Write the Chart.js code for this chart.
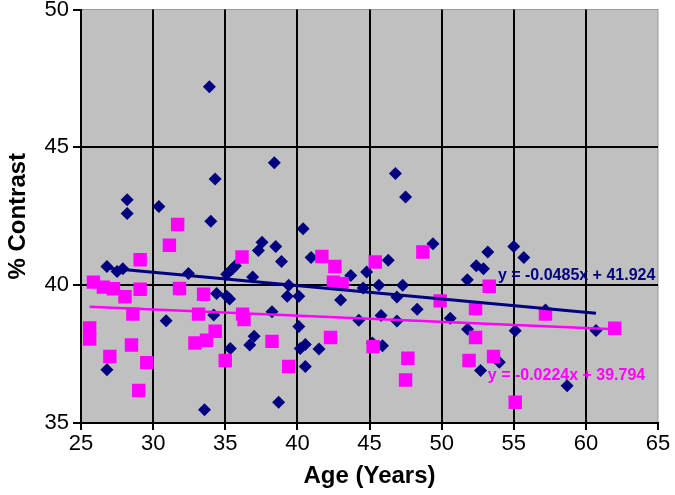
<!DOCTYPE html>
<html>
<head>
<meta charset="utf-8">
<script src="https://cdn.jsdelivr.net/npm/chart.js@4"></script>
<style>
  html, body { margin: 0; padding: 0; background: #fff; }
  #wrap { width: 675px; height: 495px; }
</style>
</head>
<body>
<div id="wrap"><canvas id="c" width="675" height="495"></canvas></div>
<script>
// navy diamonds: age, % contrast
var navyAge = [28.2, 28.2, 30.4, 33.9, 34.3, 38.4, 46.8, 47.5, 34.0, 26.8, 27.5, 27.9, 32.45,
  35.1, 35.5, 35.7, 37.55, 37.3, 38.5, 38.9, 36.9, 40.4, 40.95, 39.4, 39.3, 40.1, 34.4, 35.1, 35.3,
  43.0, 43.7, 44.56, 44.8, 30.9, 34.2, 38.24, 40.1, 37.0, 36.7, 35.35, 40.2, 40.55, 41.5, 40.55,
  26.8, 38.7, 33.56, 44.26, 49.4, 46.3, 45.65, 47.3, 46.9, 48.3, 45.8, 46.9, 50.6, 51.8, 45.2, 45.9,
  52.7, 54.0, 51.78, 52.4, 52.9, 53.2, 55.0, 55.7, 57.2, 55.1, 58.7, 60.7];
var navyContrast = [43.1, 42.6, 42.85, 47.2, 43.85, 44.44, 44.05, 43.2, 42.32, 40.68, 40.5, 40.6, 40.42,
  40.4, 40.6, 40.7, 41.56, 41.26, 41.4, 40.86, 40.3, 42.05, 41.0, 40.0, 39.6, 39.6, 39.7, 39.6, 39.5,
  39.46, 40.35, 39.9, 40.48, 38.71, 38.92, 39.04, 38.5, 38.15, 37.83, 37.7, 37.7, 37.85, 37.68, 37.05,
  36.93, 35.75, 35.48, 38.73, 41.5, 40.9, 40.0, 40.0, 39.57, 39.13, 38.9, 38.7, 38.8, 38.4, 37.9, 37.8,
  36.9, 37.2, 40.2, 40.7, 40.6, 41.2, 41.4, 41.0, 39.1, 38.35, 36.35, 38.36];

// magenta squares: age, % contrast
var pinkAge = [31.7, 31.13, 29.1, 36.16, 41.7, 42.6, 42.5, 43.1, 25.86, 26.55, 27.25, 28.05, 29.1,
  31.83, 33.5, 28.6, 25.6, 25.6, 33.15, 36.2, 36.3, 28.5, 27.0, 29.56, 29.0, 32.9, 33.7, 34.3, 35.0,
  38.24, 39.4, 42.3, 45.25, 45.4, 48.7, 53.3, 49.9, 52.35, 52.35, 51.9, 53.6, 47.66, 47.5, 57.2,
  55.1, 62.0];
var pinkContrast = [42.2, 41.45, 40.92, 41.02, 41.04, 40.68, 40.11, 40.05, 40.11, 39.93, 39.87, 39.58, 39.85,
  39.88, 39.67, 38.95, 38.45, 38.05, 38.95, 38.95, 38.75, 37.83, 37.41, 37.19, 36.18, 37.9, 38.0, 38.33, 37.27,
  37.96, 37.05, 38.1, 37.77, 40.84, 41.2, 39.96, 39.43, 39.15, 38.1, 37.27, 37.41, 37.35, 36.56, 38.95,
  35.75, 38.44];

// linear trendlines as printed on the chart
var navyFit = [-0.0485, 41.924];
var pinkFit = [-0.0224, 39.794];
var navyLabel = 'y = -0.0485x + 41.924';
var pinkLabel = 'y = -0.0224x + 39.794';

var xTicks = [25, 30, 35, 40, 45, 50, 55, 60, 65];
var yTicks = [35, 40, 45, 50];

var NAVY = '#000080';
var PINK = '#FF00FF';
var tickFont = { family: "'Liberation Sans Narrow', 'Liberation Sans', sans-serif", size: 22 };
var titleFont = { family: "'Liberation Sans Narrow', 'Liberation Sans', sans-serif", size: 24, weight: 'bold' };

function pts(xs, ys) {
  return xs.map(function(x, i) { return { x: x, y: ys[i] }; });
}
function fitLine(xs, fit) {
  var lo = Math.min.apply(null, xs), hi = Math.max.apply(null, xs);
  return [{ x: lo, y: fit[0] * lo + fit[1] }, { x: hi, y: fit[0] * hi + fit[1] }];
}

var plotBg = {
  id: 'plotBg',
  beforeDraw: function(chart) {
    var a = chart.chartArea, ctx = chart.ctx;
    ctx.save();
    ctx.fillStyle = '#C0C0C0';
    ctx.fillRect(a.left, a.top, a.right - a.left, a.bottom - a.top);
    ctx.strokeStyle = '#9a9a9a';
    ctx.lineWidth = 1;
    ctx.strokeRect(a.left, a.top, a.right - a.left, a.bottom - a.top);
    ctx.restore();
  }
};

var fitText = {
  id: 'fitText',
  afterDatasetsDraw: function(chart) {
    var ctx = chart.ctx, xs = chart.scales.x, ys = chart.scales.y;
    ctx.save();
    ctx.font = "bold 16px 'Liberation Sans', Arial, sans-serif";
    ctx.textBaseline = 'middle';
    ctx.fillStyle = NAVY;
    ctx.fillText(navyLabel, xs.getPixelForValue(53.9), ys.getPixelForValue(40.33));
    ctx.fillStyle = PINK;
    ctx.fillText(pinkLabel, xs.getPixelForValue(53.2), ys.getPixelForValue(36.71));
    ctx.restore();
  }
};

function gridColor(max) {
  return function(c) { return c.tick && c.tick.value === max ? 'rgba(0,0,0,0)' : '#000'; };
}

new Chart(document.getElementById('c'), {
  type: 'scatter',
  data: {
    datasets: [
      {
        type: 'line', data: fitLine(navyAge, navyFit), borderColor: NAVY, borderWidth: 3,
        pointRadius: 0, fill: false, order: 1
      },
      {
        type: 'line', data: fitLine(pinkAge, pinkFit), borderColor: PINK, borderWidth: 2.5,
        pointRadius: 0, fill: false, order: 1
      },
      {
        data: pts(navyAge, navyContrast), pointStyle: 'rectRot', pointRadius: 6.5,
        backgroundColor: NAVY, borderColor: NAVY, borderWidth: 0, order: 3
      },
      {
        data: pts(pinkAge, pinkContrast), pointStyle: 'rect', pointRadius: 9.5,
        backgroundColor: PINK, borderColor: PINK, borderWidth: 0, order: 2
      }
    ]
  },
  options: {
    responsive: false,
    animation: false,
    layout: { padding: { top: 8, right: 17, left: 0, bottom: 0 } },
    plugins: { legend: { display: false }, tooltip: { enabled: false } },
    scales: {
      x: {
        type: 'linear', min: 25, max: 65,
        afterBuildTicks: function(s) { s.ticks = xTicks.map(function(v) { return { value: v }; }); },
        afterFit: function(s) { s.height = 72; s.paddingLeft = 0; s.paddingRight = 0; },
        grid: { color: gridColor(65), lineWidth: 2, tickColor: '#000', tickLength: 7 },
        border: { color: '#000', width: 2 },
        ticks: { color: '#000', font: tickFont, padding: 1, maxRotation: 0 },
        title: { display: true, text: 'Age (Years)', color: '#000', font: titleFont, padding: { top: 0 } }
      },
      y: {
        type: 'linear', min: 35, max: 50,
        afterBuildTicks: function(s) { s.ticks = yTicks.map(function(v) { return { value: v }; }); },
        afterFit: function(s) { s.width = 81; s.paddingTop = 0; s.paddingBottom = 0; },
        grid: { color: gridColor(50), lineWidth: 2, tickColor: '#000', tickLength: 8 },
        border: { color: '#000', width: 2 },
        ticks: { color: '#000', font: tickFont, padding: 4 },
        title: { display: true, text: '% Contrast', color: '#000', font: titleFont, padding: { bottom: 6 } }
      }
    }
  },
  plugins: [plotBg, fitText]
});
</script>
</body>
</html>
